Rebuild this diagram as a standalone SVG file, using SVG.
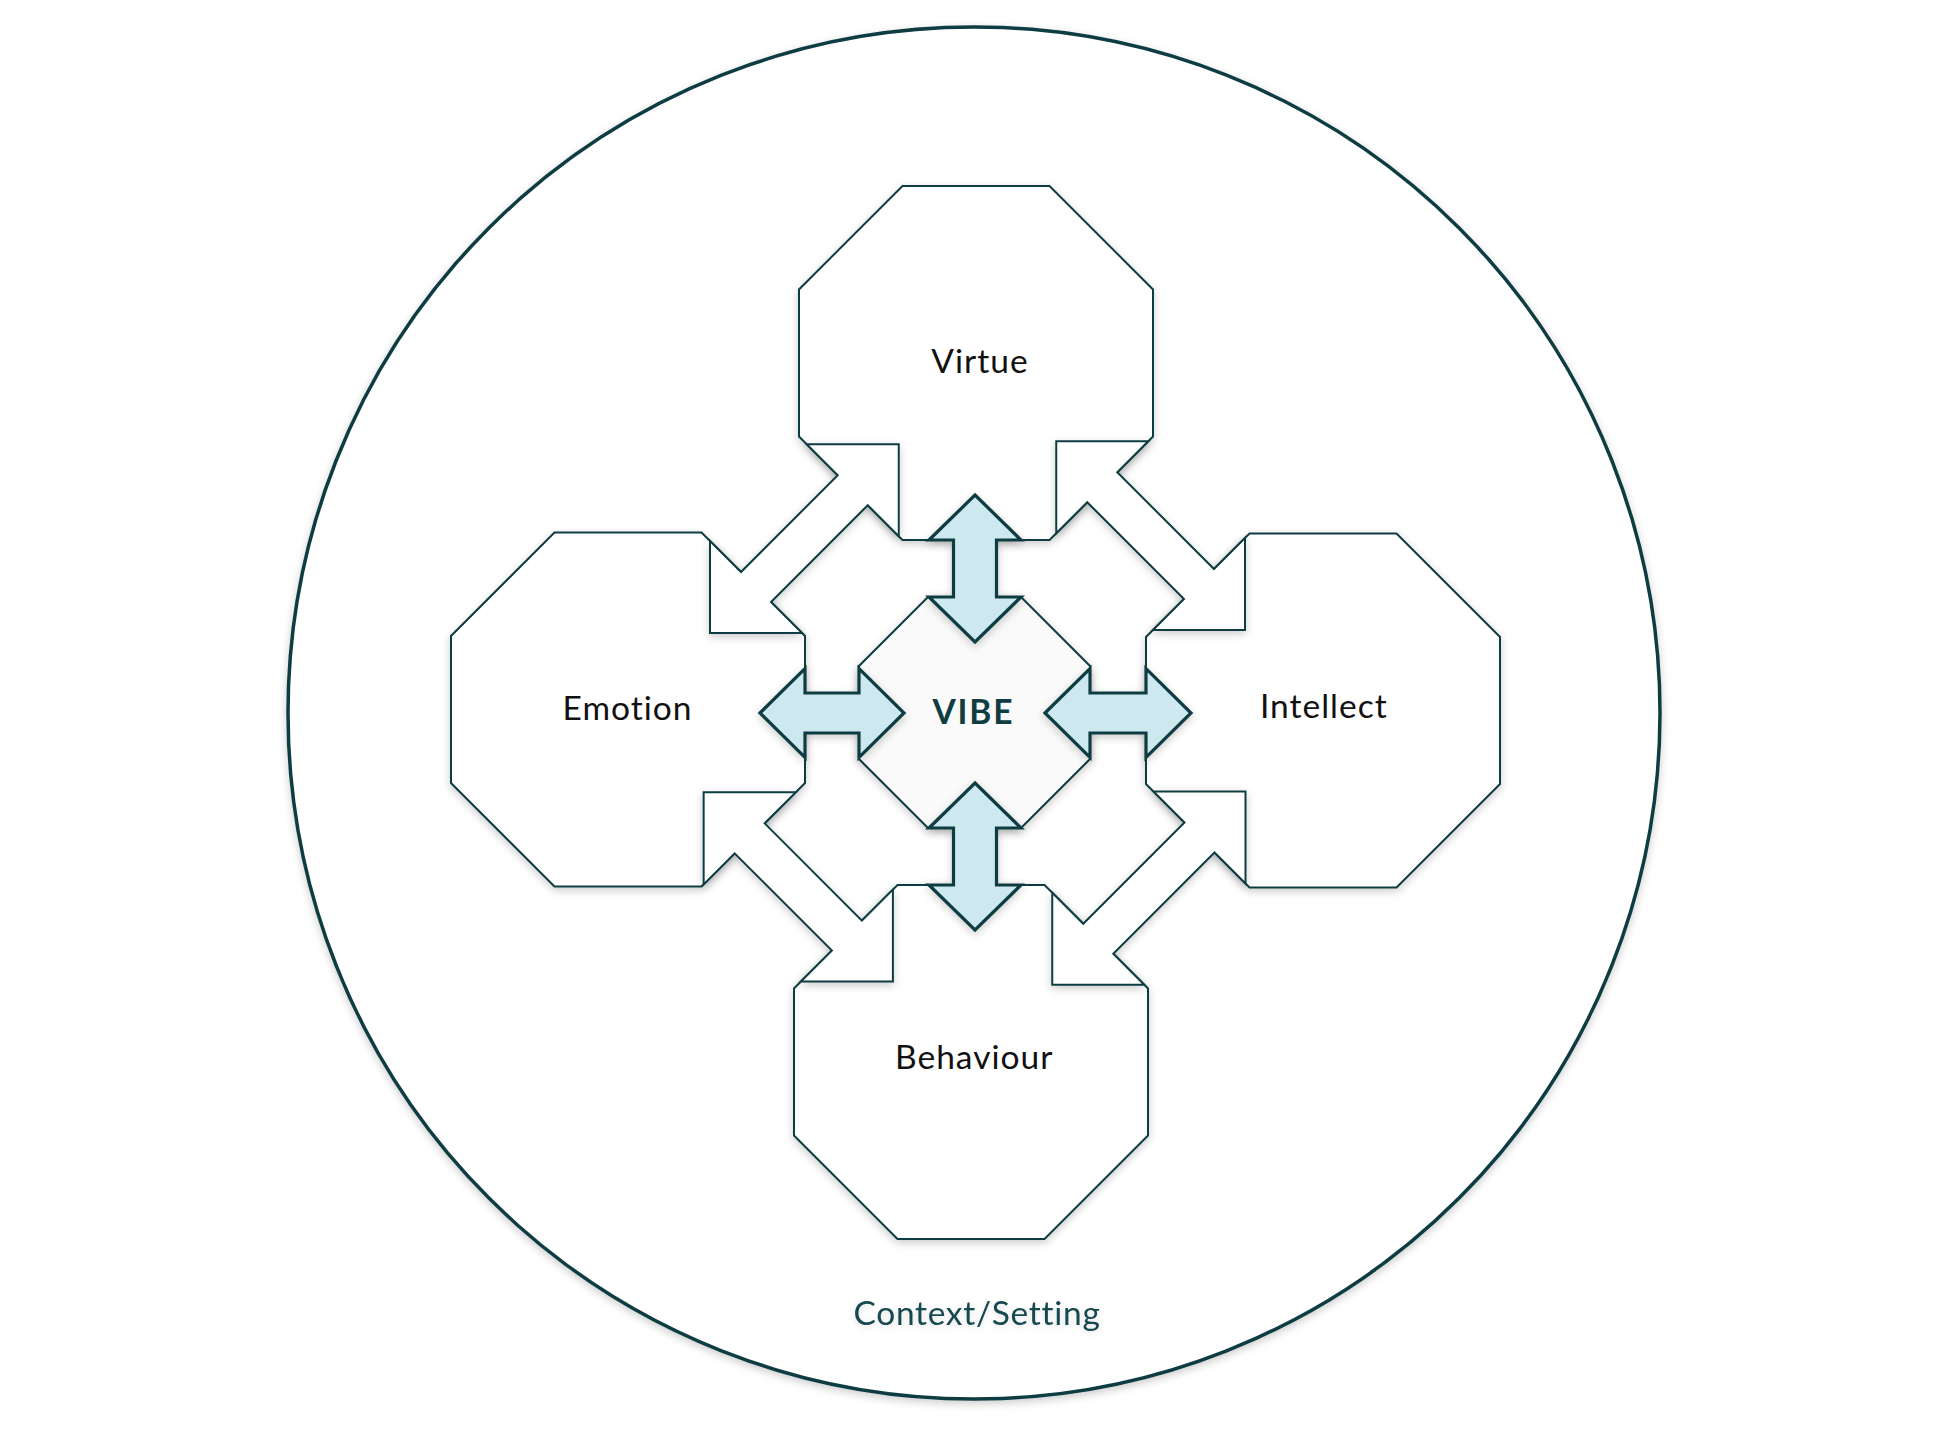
<svg xmlns="http://www.w3.org/2000/svg" width="1949" height="1440" viewBox="0 0 1949 1440">
  <defs>
    <filter id="sh" x="-20%" y="-20%" width="140%" height="140%">
      <feDropShadow dx="0" dy="3" stdDeviation="4" flood-color="#000" flood-opacity="0.2"/>
    </filter>
    <filter id="tsh" x="-20%" y="-40%" width="140%" height="180%">
      <feDropShadow dx="0" dy="2" stdDeviation="3" flood-color="#000" flood-opacity="0.12"/>
    </filter>
    <style>
      .oct { fill: #ffffff; stroke: #0f3d42; stroke-width: 2; stroke-linejoin: miter; filter: url(#sh); }
      .core { fill: #fafafa; }
      .warrow { fill: #ffffff; stroke: #0f3d42; stroke-width: 2; stroke-linejoin: miter; filter: url(#sh); }
      .barrow { fill: #cde9ef; stroke: #0f3d42; stroke-width: 3.2; stroke-linejoin: miter; filter: url(#sh); }
      text { font-variant-ligatures: none; font-feature-settings: "liga" 0, "clig" 0; }
      .lbl { font-family: Lato, "Open Sans", sans-serif; font-size: 33.5px; letter-spacing: 1px; fill: #111111; text-anchor: middle; }
      .vibe { font-family: Lato, "Open Sans", sans-serif; font-size: 33.5px; letter-spacing: 1.8px; font-weight: bold; fill: #0f3d42; text-anchor: middle; }
      .ctx { font-family: Lato, "Open Sans", sans-serif; font-size: 33.5px; letter-spacing: 0.7px; fill: #174950; text-anchor: middle; filter: url(#tsh); }
    </style>
  </defs>
  <rect width="1949" height="1440" fill="#ffffff"/>

  <g id="context">
    <circle cx="974" cy="713" r="686" fill="#ffffff" stroke="#0f3d42" stroke-width="3.5" filter="url(#sh)"/>
    <text class="ctx" x="977" y="1325">Context/Setting</text>
  </g>

  <g id="node-virtue">
    <polygon class="oct" points="902.5,186 1049.5,186 1153,289.5 1153,436.5 1049.5,540 902.5,540 799,436.5 799,289.5"/>
    <text class="lbl" x="980" y="373.3">Virtue</text>
  </g>
  <g id="node-emotion">
    <polygon class="oct" points="554.5,532.5 701.5,532.5 805,636 805,783 701.5,886.5 554.5,886.5 451,783 451,636"/>
    <text class="lbl" x="627.5" y="720">Emotion</text>
  </g>
  <g id="node-intellect">
    <polygon class="oct" points="1249.5,533.5 1396.5,533.5 1500,637 1500,784 1396.5,887.5 1249.5,887.5 1146,784 1146,637"/>
    <text class="lbl" x="1323.8" y="718.3">Intellect</text>
  </g>
  <g id="node-behaviour">
    <polygon class="oct" points="897.5,885 1044.5,885 1148,988.5 1148,1135.5 1044.5,1239 897.5,1239 794,1135.5 794,988.5"/>
    <text class="lbl" x="974.2" y="1069.3">Behaviour</text>
  </g>
  <g id="node-vibe">
    <polygon class="oct core" points="928,597 1021,597 1090,666 1090,759 1021,828 928,828 859,759 859,666"/>
    <text class="vibe" x="973.4" y="724">VIBE</text>
  </g>

  <g id="connectors">
    <polygon class="warrow" points="710,633 802,633 771,602 867.75,505.25 898.75,536.25 898.75,444.25 806.75,444.25 837.75,475.25 741,572 710,541"/>
    <polygon class="warrow" points="1056.25,441.25 1148.25,441.25 1117.25,472.25 1214,569 1245,538 1245,630 1153,630 1184,599 1087.25,502.25 1056.25,533.25"/>
    <polygon class="warrow" points="703.65,792.35 795.65,792.35 764.65,823.35 861.9,920.6 892.9,889.6 892.9,981.6 800.9,981.6 831.9,950.6 734.65,853.35 703.65,884.35"/>
    <polygon class="warrow" points="1245.5,791.5 1245.5,883.5 1214.5,852.5 1113.25,953.75 1144.25,984.75 1052.25,984.75 1052.25,892.75 1083.25,923.75 1184.5,822.5 1153.5,791.5"/>

    <polygon class="barrow" points="975,495 1021,540 996.5,540 996.5,597 1021,597 975,642 929,597 953.5,597 953.5,540 929,540"/>
    <polygon class="barrow" points="975,783 1021,828 996.5,828 996.5,885 1021,885 975,930 929,885 953.5,885 953.5,828 929,828"/>
    <polygon class="barrow" points="760,713 805,668.5 805,693 859,693 859,668.5 904,713 859,757.5 859,733 805,733 805,757.5"/>
    <polygon class="barrow" points="1045,713 1090,668.5 1090,693 1146,693 1146,668.5 1191,713 1146,757.5 1146,733 1090,733 1090,757.5"/>
  </g>
</svg>
